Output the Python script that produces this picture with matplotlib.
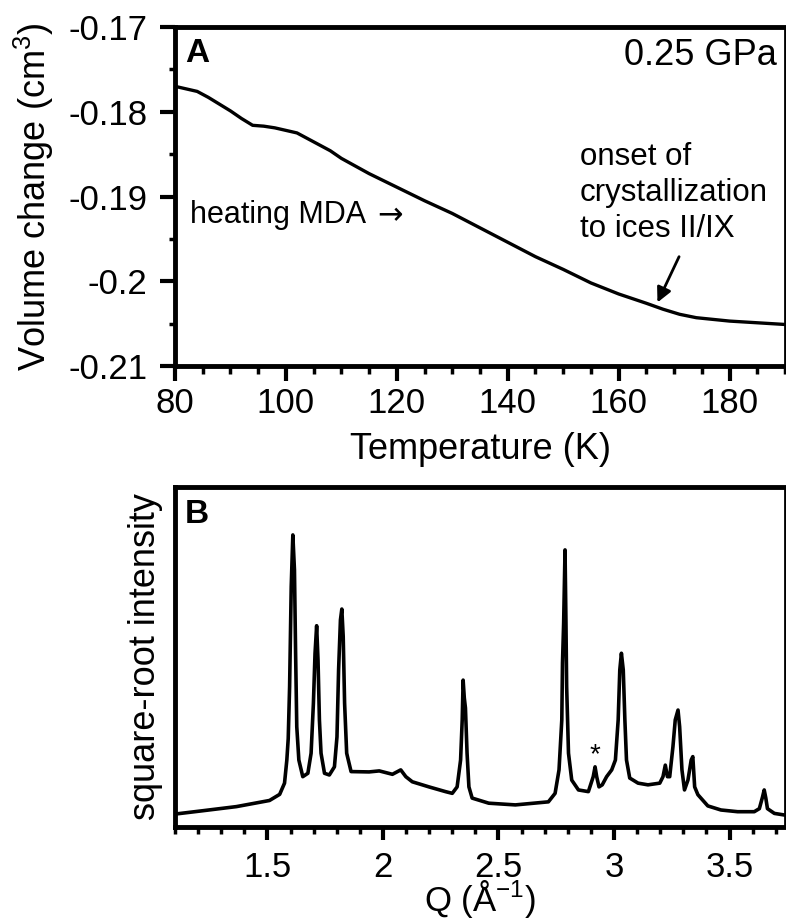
import matplotlib
matplotlib.use("Agg")
import matplotlib.pyplot as plt
from matplotlib.ticker import MultipleLocator, FixedLocator, FixedFormatter

plt.rcParams['font.family'] = ['Liberation Sans', 'DejaVu Sans']
plt.rcParams['mathtext.fontset'] = 'custom'
plt.rcParams['mathtext.rm'] = 'Liberation Sans'
plt.rcParams['mathtext.it'] = 'Liberation Sans:italic'
plt.rcParams['axes.unicode_minus'] = False

# --- Panel A: volume change on heating ---
temperature = [80, 82, 84, 86, 88, 90, 92, 94, 96, 98, 100, 102, 104, 106, 108, 110,
               115, 120, 125, 130, 135, 140, 145, 150, 155, 160, 165, 168, 171, 174,
               177, 180, 185, 190]
volume = [-0.1770, -0.1773, -0.1776, -0.1783, -0.1791, -0.1799, -0.1808, -0.1816,
          -0.1817, -0.1819, -0.1822, -0.1825, -0.1832, -0.1839, -0.1846, -0.1855,
          -0.1873, -0.1889, -0.1905, -0.1920, -0.1937, -0.1954, -0.1971, -0.1986,
          -0.2002, -0.2015, -0.2026, -0.2033, -0.2039, -0.2043, -0.2045, -0.2047,
          -0.2049, -0.2051]
a_yticks = [-0.21, -0.20, -0.19, -0.18, -0.17]
a_yticklabels = ['-0.21', '-0.2', '-0.19', '-0.18', '-0.17']
a_xticks = [80, 100, 120, 140, 160, 180]

# --- Panel B: diffraction pattern ---
q_values = [1.100, 1.222, 1.366, 1.509, 1.553, 1.574, 1.584, 1.590, 1.596, 1.603,
            1.610, 1.617, 1.622, 1.627, 1.636, 1.653, 1.675, 1.689, 1.699, 1.706,
            1.713, 1.719, 1.725, 1.732, 1.747, 1.768, 1.790, 1.801, 1.808, 1.816,
            1.822, 1.828, 1.834, 1.843, 1.862, 1.940, 1.984, 2.041, 2.077, 2.099,
            2.127, 2.199, 2.271, 2.300, 2.321, 2.336, 2.343, 2.347, 2.352, 2.357,
            2.364, 2.372, 2.386, 2.458, 2.573, 2.716, 2.745, 2.762, 2.774, 2.777,
            2.782, 2.788, 2.792, 2.795, 2.803, 2.817, 2.846, 2.889, 2.910, 2.918,
            2.925, 2.935, 2.949, 2.968, 2.990, 3.006, 3.018, 3.025, 3.032, 3.040,
            3.047, 3.054, 3.068, 3.104, 3.147, 3.198, 3.212, 3.222, 3.231, 3.241,
            3.255, 3.265, 3.277, 3.284, 3.294, 3.305, 3.320, 3.334, 3.341, 3.349,
            3.363, 3.406, 3.463, 3.535, 3.607, 3.629, 3.643, 3.650, 3.657, 3.664,
            3.694, 3.740]
intensity = [0.038, 0.048, 0.060, 0.078, 0.096, 0.129, 0.197, 0.260, 0.413, 0.707,
             0.859, 0.756, 0.510, 0.295, 0.197, 0.148, 0.158, 0.217, 0.364, 0.510,
             0.592, 0.490, 0.315, 0.217, 0.158, 0.153, 0.177, 0.265, 0.462, 0.609,
             0.641, 0.560, 0.364, 0.217, 0.163, 0.162, 0.165, 0.155, 0.168, 0.148,
             0.133, 0.118, 0.104, 0.099, 0.118, 0.197, 0.315, 0.432, 0.380, 0.350,
             0.217, 0.118, 0.085, 0.070, 0.065, 0.074, 0.099, 0.168, 0.315, 0.482,
             0.600, 0.815, 0.600, 0.413, 0.217, 0.138, 0.109, 0.104, 0.148, 0.177,
             0.148, 0.118, 0.124, 0.148, 0.168, 0.197, 0.315, 0.462, 0.511, 0.462,
             0.315, 0.197, 0.144, 0.129, 0.124, 0.129, 0.148, 0.182, 0.148, 0.148,
             0.236, 0.315, 0.344, 0.295, 0.168, 0.109, 0.138, 0.197, 0.207, 0.118,
             0.095, 0.062, 0.050, 0.045, 0.045, 0.054, 0.089, 0.109, 0.085, 0.054,
             0.040, 0.035]
b_xticks = [1.5, 2.0, 2.5, 3.0, 3.5]
b_xticklabels = ['1.5', '2', '2.5', '3', '3.5']

fig = plt.figure(figsize=(7.86, 9.19), dpi=100)
axA = fig.add_axes([175 / 786, (919 - 366) / 919, 610 / 786, 339 / 919])
axB = fig.add_axes([175 / 786, (919 - 827) / 919, 610 / 786, 340 / 919])

for ax in (axA, axB):
    for side in ('left', 'top', 'bottom'):
        ax.spines[side].set_linewidth(3.5)
    ax.spines['right'].set_linewidth(2)

# ---- Panel A ----
axA.plot(temperature, volume, color='black', lw=2.4)
axA.set_xlim(80, 190)
axA.set_ylim(-0.21, -0.17)
axA.xaxis.set_major_locator(FixedLocator(a_xticks))
axA.xaxis.set_minor_locator(MultipleLocator(5))
axA.yaxis.set_major_locator(FixedLocator(a_yticks))
axA.yaxis.set_major_formatter(FixedFormatter(a_yticklabels))
axA.yaxis.set_minor_locator(MultipleLocator(0.005))
axA.tick_params(axis='both', which='major', direction='out', length=11, width=3,
                labelsize=25)
axA.tick_params(axis='x', which='major', pad=4)
axA.tick_params(axis='y', which='major', pad=9)
axA.tick_params(axis='x', which='minor', direction='out', length=6, width=2.5)
axA.tick_params(axis='y', which='minor', direction='out', length=4, width=2.5)
axA.set_xlabel('Temperature (K)', fontsize=26)
axA.set_ylabel('Volume change (cm$^3$)', fontsize=26)
axA.xaxis.set_label_coords(0.5, -0.195)
axA.yaxis.set_label_coords(-0.195, 0.5)

axA.text(0.016, 0.897, 'A', transform=axA.transAxes, fontsize=24,
         fontweight='bold', va='baseline', ha='left')
axA.text(0.987, 0.888, '0.25 GPa', transform=axA.transAxes, fontsize=26,
         va='baseline', ha='right')
axA.text(0.024, 0.445, 'heating MDA', transform=axA.transAxes,
         fontsize=22, va='center', ha='left')
axA.text(0.331, 0.445, '\u2192', transform=axA.transAxes, fontsize=22,
         family='DejaVu Sans', va='center', ha='left')
axA.text(0.664, 0.66, 'onset of\ncrystallization\nto ices II/IX',
         transform=axA.transAxes, fontsize=22.5, va='top', ha='left', linespacing=1.25)
axA.annotate('', xy=(167.0, -0.2025), xytext=(170.9, -0.1971),
             arrowprops=dict(arrowstyle='-|>', color='black', lw=2,
                             mutation_scale=22, shrinkA=0, shrinkB=0))

# ---- Panel B ----
axB.plot(q_values, intensity, color='black', lw=2.6)
axB.set_xlim(1.1, 3.74)
axB.set_ylim(0, 1)
axB.xaxis.set_major_locator(FixedLocator(b_xticks))
axB.xaxis.set_major_formatter(FixedFormatter(b_xticklabels))
axB.xaxis.set_minor_locator(MultipleLocator(0.1))
axB.tick_params(axis='x', which='major', direction='out', length=9, width=3,
                labelsize=25, pad=8)
axB.tick_params(axis='x', which='minor', direction='out', length=5, width=2.5)
axB.tick_params(axis='y', which='both', left=False, labelleft=False)
axB.set_xlabel('Q (\u00c5$^{-1}$)', fontsize=25)
axB.set_ylabel('square-root intensity', fontsize=26)
axB.xaxis.set_label_coords(0.5, -0.15)
axB.yaxis.set_label_coords(-0.02, 0.5)

axB.text(0.016, 0.894, 'B', transform=axB.transAxes, fontsize=24,
         fontweight='bold', va='baseline', ha='left')
axB.text(2.918, 0.21, '*', fontsize=20, ha='center', va='center')

fig.savefig('out.png', dpi=100)
